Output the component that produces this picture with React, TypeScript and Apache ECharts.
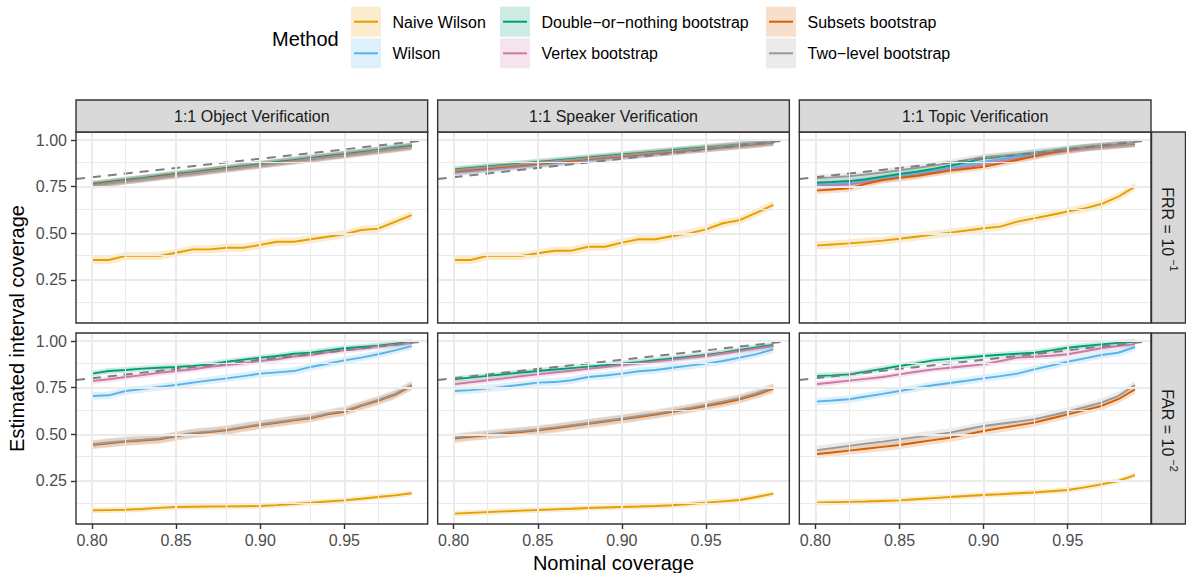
import React, { useEffect, useRef } from "react";
import * as echarts from "echarts";

// ---------------- data ----------------
const XS = [0.80, 0.81, 0.82, 0.83, 0.84, 0.85, 0.86, 0.87, 0.88, 0.89, 0.90, 0.91, 0.92, 0.93, 0.94, 0.95, 0.96, 0.97, 0.98, 0.99];
const METHODS = ["Naive Wilson", "Wilson", "Double\u2212or\u2212nothing bootstrap", "Vertex bootstrap", "Subsets bootstrap", "Two\u2212level bootstrap"];
const COLORS = ["#E69F00", "#56B4E9", "#009E73", "#CC79A7", "#D55E00", "#999999"];
const FACETS = ["1:1 Object Verification", "1:1 Speaker Verification", "1:1 Topic Verification"];
const ROW_NAMES = ["FRR = 10", "FAR = 10"];
const ROW_EXPONENTS = ["\u22121", "\u22122"];
const X_TICKS = [0.80, 0.85, 0.90, 0.95];
const X_MINOR = [0.825, 0.875, 0.925, 0.975];
const Y_TICKS = [0.25, 0.50, 0.75, 1.00];
const Y_MINOR = [0.125, 0.375, 0.625, 0.875];
const BAND_FRR = [0.022, 0.018, 0.018, 0.018, 0.019, 0.019];
const BAND_FAR = [0.015, 0.020, 0.016, 0.016, 0.023, 0.023];

// Object, FRR
const OBJ_FRR_NAIVE = [0.357, 0.357, 0.379, 0.379, 0.379, 0.396, 0.414, 0.414, 0.423, 0.423, 0.438, 0.455, 0.455, 0.468, 0.482, 0.495, 0.518, 0.525, 0.562, 0.598];
const OBJ_FRR_WILSON = [0.762, 0.773, 0.784, 0.795, 0.806, 0.817, 0.827, 0.838, 0.849, 0.860, 0.871, 0.882, 0.893, 0.904, 0.915, 0.926, 0.937, 0.948, 0.960, 0.971];
const OBJ_FRR_DON = [0.764, 0.775, 0.786, 0.796, 0.807, 0.818, 0.828, 0.839, 0.850, 0.860, 0.871, 0.882, 0.892, 0.903, 0.914, 0.924, 0.935, 0.946, 0.957, 0.968];
const OBJ_FRR_VERTEX = [0.758, 0.768, 0.780, 0.790, 0.801, 0.812, 0.822, 0.833, 0.844, 0.854, 0.865, 0.876, 0.887, 0.897, 0.908, 0.919, 0.930, 0.941, 0.952, 0.963];
const OBJ_FRR_SUBSETS = [0.760, 0.771, 0.782, 0.792, 0.803, 0.814, 0.824, 0.835, 0.846, 0.856, 0.867, 0.878, 0.889, 0.899, 0.910, 0.921, 0.932, 0.943, 0.954, 0.965];
const OBJ_FRR_TWOLEVEL = [0.757, 0.768, 0.779, 0.790, 0.801, 0.812, 0.822, 0.833, 0.844, 0.855, 0.865, 0.876, 0.887, 0.898, 0.908, 0.919, 0.930, 0.941, 0.952, 0.963];

// Speaker, FRR
const SPK_FRR_NAIVE = [0.357, 0.357, 0.379, 0.379, 0.379, 0.393, 0.407, 0.407, 0.428, 0.428, 0.450, 0.468, 0.468, 0.486, 0.500, 0.521, 0.554, 0.571, 0.611, 0.652];
const SPK_FRR_WILSON = [0.824, 0.832, 0.841, 0.849, 0.858, 0.866, 0.875, 0.883, 0.892, 0.900, 0.909, 0.917, 0.926, 0.934, 0.943, 0.951, 0.960, 0.968, 0.977, 0.986];
const SPK_FRR_DON = [0.842, 0.850, 0.858, 0.866, 0.874, 0.882, 0.890, 0.898, 0.906, 0.914, 0.922, 0.930, 0.937, 0.945, 0.953, 0.960, 0.967, 0.975, 0.982, 0.989];
const SPK_FRR_VERTEX = [0.828, 0.836, 0.845, 0.853, 0.861, 0.870, 0.878, 0.886, 0.895, 0.903, 0.911, 0.920, 0.928, 0.936, 0.945, 0.953, 0.961, 0.969, 0.977, 0.986];
const SPK_FRR_SUBSETS = [0.832, 0.840, 0.848, 0.857, 0.865, 0.873, 0.881, 0.889, 0.898, 0.906, 0.914, 0.922, 0.930, 0.938, 0.946, 0.954, 0.962, 0.970, 0.978, 0.987];
const SPK_FRR_TWOLEVEL = [0.838, 0.846, 0.854, 0.862, 0.870, 0.878, 0.886, 0.894, 0.902, 0.910, 0.918, 0.926, 0.934, 0.942, 0.950, 0.958, 0.966, 0.973, 0.981, 0.989];

// Topic, FRR
const TOP_FRR_NAIVE = [0.434, 0.440, 0.446, 0.453, 0.461, 0.471, 0.482, 0.493, 0.504, 0.515, 0.527, 0.536, 0.563, 0.580, 0.598, 0.617, 0.634, 0.657, 0.696, 0.750];
const TOP_FRR_WILSON = [0.760, 0.764, 0.770, 0.781, 0.795, 0.808, 0.820, 0.834, 0.850, 0.866, 0.882, 0.896, 0.909, 0.922, 0.934, 0.946, 0.957, 0.966, 0.974, 0.982];
const TOP_FRR_DON = [0.771, 0.775, 0.780, 0.790, 0.804, 0.818, 0.830, 0.845, 0.862, 0.880, 0.902, 0.912, 0.921, 0.931, 0.941, 0.952, 0.960, 0.968, 0.975, 0.982];
const TOP_FRR_VERTEX = [0.753, 0.757, 0.762, 0.774, 0.788, 0.800, 0.812, 0.826, 0.841, 0.855, 0.870, 0.886, 0.900, 0.914, 0.929, 0.942, 0.954, 0.963, 0.971, 0.980];
const TOP_FRR_SUBSETS = [0.729, 0.735, 0.741, 0.765, 0.786, 0.797, 0.807, 0.822, 0.836, 0.846, 0.857, 0.875, 0.893, 0.912, 0.932, 0.946, 0.959, 0.966, 0.973, 0.982];
const TOP_FRR_TWOLEVEL = [0.795, 0.800, 0.806, 0.815, 0.826, 0.838, 0.850, 0.863, 0.877, 0.893, 0.908, 0.916, 0.924, 0.933, 0.942, 0.951, 0.959, 0.967, 0.974, 0.982];

// Object, FAR
const OBJ_FAR_NAIVE = [0.093, 0.094, 0.096, 0.100, 0.106, 0.111, 0.112, 0.113, 0.114, 0.115, 0.116, 0.121, 0.127, 0.134, 0.140, 0.146, 0.155, 0.164, 0.173, 0.184];
const OBJ_FAR_WILSON = [0.705, 0.709, 0.732, 0.743, 0.754, 0.764, 0.777, 0.789, 0.800, 0.812, 0.825, 0.832, 0.839, 0.861, 0.878, 0.896, 0.911, 0.929, 0.950, 0.973];
const OBJ_FAR_DON = [0.825, 0.839, 0.845, 0.852, 0.857, 0.861, 0.867, 0.875, 0.889, 0.900, 0.911, 0.920, 0.932, 0.938, 0.950, 0.961, 0.968, 0.975, 0.985, 0.996];
const OBJ_FAR_VERTEX = [0.786, 0.795, 0.807, 0.817, 0.830, 0.839, 0.848, 0.862, 0.871, 0.880, 0.893, 0.902, 0.917, 0.925, 0.940, 0.950, 0.958, 0.971, 0.979, 0.991];
const OBJ_FAR_SUBSETS = [0.443, 0.452, 0.461, 0.467, 0.473, 0.489, 0.504, 0.512, 0.521, 0.536, 0.550, 0.562, 0.575, 0.586, 0.607, 0.621, 0.652, 0.679, 0.711, 0.759];
const OBJ_FAR_TWOLEVEL = [0.447, 0.456, 0.465, 0.471, 0.478, 0.493, 0.508, 0.516, 0.525, 0.540, 0.554, 0.566, 0.579, 0.590, 0.611, 0.627, 0.656, 0.684, 0.716, 0.765];

// Speaker, FAR
const SPK_FAR_NAIVE = [0.075, 0.079, 0.083, 0.087, 0.091, 0.095, 0.098, 0.101, 0.105, 0.108, 0.111, 0.113, 0.116, 0.120, 0.127, 0.134, 0.141, 0.148, 0.164, 0.182];
const SPK_FAR_WILSON = [0.732, 0.737, 0.745, 0.755, 0.766, 0.777, 0.780, 0.790, 0.807, 0.815, 0.825, 0.838, 0.845, 0.857, 0.868, 0.879, 0.893, 0.911, 0.930, 0.955];
const SPK_FAR_DON = [0.795, 0.804, 0.813, 0.822, 0.831, 0.839, 0.847, 0.855, 0.863, 0.870, 0.878, 0.887, 0.897, 0.906, 0.916, 0.925, 0.938, 0.952, 0.966, 0.979];
const SPK_FAR_VERTEX = [0.768, 0.779, 0.790, 0.800, 0.811, 0.821, 0.831, 0.841, 0.851, 0.861, 0.871, 0.881, 0.891, 0.900, 0.910, 0.920, 0.933, 0.946, 0.960, 0.973];
const SPK_FAR_SUBSETS = [0.477, 0.487, 0.495, 0.504, 0.512, 0.521, 0.532, 0.544, 0.556, 0.568, 0.580, 0.593, 0.606, 0.621, 0.636, 0.652, 0.668, 0.688, 0.713, 0.745];
const SPK_FAR_TWOLEVEL = [0.482, 0.492, 0.500, 0.509, 0.517, 0.526, 0.537, 0.549, 0.561, 0.573, 0.585, 0.598, 0.611, 0.626, 0.641, 0.658, 0.675, 0.694, 0.720, 0.752];

// Topic, FAR
const TOP_FAR_NAIVE = [0.134, 0.136, 0.138, 0.140, 0.143, 0.146, 0.152, 0.158, 0.164, 0.170, 0.175, 0.179, 0.184, 0.188, 0.195, 0.202, 0.216, 0.232, 0.250, 0.282];
const TOP_FAR_WILSON = [0.675, 0.681, 0.688, 0.703, 0.717, 0.732, 0.748, 0.763, 0.775, 0.787, 0.800, 0.812, 0.825, 0.848, 0.868, 0.889, 0.907, 0.925, 0.937, 0.968];
const TOP_FAR_DON = [0.812, 0.816, 0.821, 0.836, 0.851, 0.866, 0.880, 0.896, 0.904, 0.912, 0.920, 0.926, 0.932, 0.937, 0.950, 0.964, 0.973, 0.982, 0.990, 0.996];
const TOP_FAR_VERTEX = [0.768, 0.778, 0.788, 0.797, 0.807, 0.821, 0.835, 0.848, 0.857, 0.866, 0.875, 0.893, 0.911, 0.916, 0.921, 0.929, 0.945, 0.961, 0.973, 0.982];
const TOP_FAR_SUBSETS = [0.393, 0.403, 0.413, 0.423, 0.433, 0.443, 0.456, 0.469, 0.482, 0.500, 0.518, 0.533, 0.548, 0.563, 0.585, 0.607, 0.630, 0.652, 0.688, 0.741];
const TOP_FAR_TWOLEVEL = [0.414, 0.426, 0.438, 0.450, 0.461, 0.473, 0.485, 0.497, 0.509, 0.527, 0.545, 0.557, 0.568, 0.580, 0.600, 0.621, 0.645, 0.670, 0.705, 0.764];

const PANELS = [
  [OBJ_FRR_NAIVE, OBJ_FRR_WILSON, OBJ_FRR_DON, OBJ_FRR_VERTEX, OBJ_FRR_SUBSETS, OBJ_FRR_TWOLEVEL],
  [SPK_FRR_NAIVE, SPK_FRR_WILSON, SPK_FRR_DON, SPK_FRR_VERTEX, SPK_FRR_SUBSETS, SPK_FRR_TWOLEVEL],
  [TOP_FRR_NAIVE, TOP_FRR_WILSON, TOP_FRR_DON, TOP_FRR_VERTEX, TOP_FRR_SUBSETS, TOP_FRR_TWOLEVEL],
  [OBJ_FAR_NAIVE, OBJ_FAR_WILSON, OBJ_FAR_DON, OBJ_FAR_VERTEX, OBJ_FAR_SUBSETS, OBJ_FAR_TWOLEVEL],
  [SPK_FAR_NAIVE, SPK_FAR_WILSON, SPK_FAR_DON, SPK_FAR_VERTEX, SPK_FAR_SUBSETS, SPK_FAR_TWOLEVEL],
  [TOP_FAR_NAIVE, TOP_FAR_WILSON, TOP_FAR_DON, TOP_FAR_VERTEX, TOP_FAR_SUBSETS, TOP_FAR_TWOLEVEL],
];

// ---------------- layout ----------------
const FF = "'Liberation Sans', Arial, Helvetica, sans-serif";
const X_MIN = 0.7905;
const X_MAX = 0.9995;
const Y_MIN = 0.0196;
const Y_MAX = 1.0429;
const COL_LEFT = [76, 437.67, 799.33];
const ROW_TOP = [132, 333];
const PW = 351.67;
const PH = 191;

function rgba(hex: string, a: number) {
  const r = parseInt(hex.slice(1, 3), 16);
  const g = parseInt(hex.slice(3, 5), 16);
  const b = parseInt(hex.slice(5, 7), 16);
  return `rgba(${r},${g},${b},${a})`;
}

function buildOption() {
  const grid: any[] = [];
  const xAxis: any[] = [];
  const yAxis: any[] = [];
  const series: any[] = [];
  const graphic: any[] = [];

  PANELS.forEach((panel, gi) => {
    const row = Math.floor(gi / 3);
    const col = gi % 3;
    const bands = row === 0 ? BAND_FRR : BAND_FAR;
    grid.push({
      left: COL_LEFT[col], top: ROW_TOP[row], width: PW, height: PH,
      show: true, backgroundColor: "#FFFFFF", borderWidth: 0,
    });
    xAxis.push({
      gridIndex: gi, type: "value", min: X_MIN, max: X_MAX,
      splitLine: { show: false }, axisLine: { show: false },
      axisTick: { show: row === 1, customValues: X_TICKS, length: 5, lineStyle: { color: "#333333", width: 1.4 } },
      axisLabel: {
        show: row === 1, customValues: X_TICKS, formatter: (v: number) => v.toFixed(2),
        color: "#4D4D4D", fontSize: 16, fontFamily: FF, margin: 8,
      },
    });
    yAxis.push({
      gridIndex: gi, type: "value", min: Y_MIN, max: Y_MAX,
      splitLine: { show: false }, axisLine: { show: false },
      axisTick: { show: col === 0, customValues: Y_TICKS, length: 5, lineStyle: { color: "#333333", width: 1.4 } },
      axisLabel: {
        show: col === 0, customValues: Y_TICKS, formatter: (v: number) => v.toFixed(2),
        color: "#4D4D4D", fontSize: 16, fontFamily: FF, margin: 9,
      },
    });
    // grid lines
    series.push({
      type: "line", xAxisIndex: gi, yAxisIndex: gi, data: [], silent: true, z: 0,
      markLine: {
        silent: true, symbol: "none", animation: false, label: { show: false },
        lineStyle: { color: "#EBEBEB", width: 2, type: "solid" },
        data: [
          ...X_TICKS.map((v) => ({ xAxis: v })),
          ...X_MINOR.map((v) => ({ xAxis: v, lineStyle: { color: "#EBEBEB", width: 1, type: "solid" } })),
          ...Y_TICKS.map((v) => ({ yAxis: v })),
          ...Y_MINOR.map((v) => ({ yAxis: v, lineStyle: { color: "#EBEBEB", width: 1, type: "solid" } })),
        ],
      },
    });
    // ribbons (custom polygons through the axis scales)
    panel.forEach((vals, m) => {
      const fill = rgba(COLORS[m], 0.2);
      series.push({
        type: "custom", xAxisIndex: gi, yAxisIndex: gi, silent: true, z: 1, clip: true,
        encode: { x: 0, y: 1 },
        data: XS.map((x, k) => [x, vals[k] - bands[m], vals[k] + bands[m]]),
        renderItem: (params: any, api: any) => {
          if (params.dataIndexInside !== 0) return null;
          const n = params.dataInsideLength;
          const up: number[][] = [];
          const lo: number[][] = [];
          for (let k = 0; k < n; k++) {
            const x = api.value(0, k);
            up.push(api.coord([x, api.value(2, k)]));
            lo.push(api.coord([x, api.value(1, k)]));
          }
          return {
            type: "polygon",
            shape: { points: up.concat(lo.reverse()) },
            style: { fill, stroke: "none" },
          };
        },
      });
    });
    // lines
    panel.forEach((vals, m) => {
      series.push({
        type: "line", xAxisIndex: gi, yAxisIndex: gi, silent: true, z: 2,
        name: METHODS[m], symbol: "none", showSymbol: false,
        lineStyle: { color: COLORS[m], width: 1.9 }, itemStyle: { color: COLORS[m] },
        data: XS.map((x, k) => [x, vals[k]]),
      });
    });
    // identity reference line
    series.push({
      type: "line", xAxisIndex: gi, yAxisIndex: gi, silent: true, z: 3,
      symbol: "none", showSymbol: false,
      lineStyle: { color: "#7F7F7F", width: 2, type: [9, 7] },
      data: [[X_MIN, X_MIN], [X_MAX, X_MAX]],
    });
    // panel border
    graphic.push({
      type: "rect", z: 50, silent: true,
      shape: { x: COL_LEFT[col], y: ROW_TOP[row], width: PW, height: PH },
      style: { fill: "none", stroke: "#333333", lineWidth: 1.4 },
    });
  });

  // top strips
  COL_LEFT.forEach((l, c) => {
    graphic.push({
      type: "rect", z: 60, silent: true,
      shape: { x: l, y: 100, width: PW, height: 32 },
      style: { fill: "#D9D9D9", stroke: "#333333", lineWidth: 1.4 },
    });
    graphic.push({
      type: "text", z: 61, silent: true, x: l + PW / 2, y: 116.5,
      style: { text: FACETS[c], fill: "#1A1A1A", font: "16px " + FF, textAlign: "center", textVerticalAlign: "middle" },
    });
  });
  // right strips
  ROW_TOP.forEach((t, r) => {
    graphic.push({
      type: "rect", z: 60, silent: true,
      shape: { x: 1151.5, y: t, width: 34, height: PH },
      style: { fill: "#D9D9D9", stroke: "#333333", lineWidth: 1.4 },
    });
    graphic.push({
      type: "text", z: 61, silent: true, x: 1167, y: t + PH / 2 + 2, rotation: -Math.PI / 2,
      style: {
        text: "{b|" + ROW_NAMES[r] + "}{s|" + ROW_EXPONENTS[r] + "}",
        fill: "#1A1A1A", textAlign: "center", textVerticalAlign: "middle",
        rich: {
          b: { fontSize: 16, fontFamily: FF, fill: "#1A1A1A", lineHeight: 24, verticalAlign: "middle" },
          s: { fontSize: 11, fontFamily: FF, fill: "#1A1A1A", lineHeight: 24, verticalAlign: "top", padding: [0, 0, 0, 3] },
        },
      },
    });
  });
  // axis titles
  graphic.push({
    type: "text", z: 61, silent: true, x: 17, y: 328.5, rotation: Math.PI / 2,
    style: { text: "Estimated interval coverage", fill: "#000000", font: "20px " + FF, textAlign: "center", textVerticalAlign: "middle" },
  });
  graphic.push({
    type: "text", z: 61, silent: true, x: 613.5, y: 563,
    style: { text: "Nominal coverage", fill: "#000000", font: "20px " + FF, textAlign: "center", textVerticalAlign: "middle" },
  });
  // legend
  graphic.push({
    type: "text", z: 61, silent: true, x: 272, y: 38.5,
    style: { text: "Method", fill: "#000000", font: "20px " + FF, textAlign: "left", textVerticalAlign: "middle" },
  });
  const LEG_X = [351, 500, 766];
  const LEG_Y = [6.7, 38.3];
  METHODS.forEach((name, m) => {
    const x0 = LEG_X[Math.floor(m / 2)];
    const y0 = LEG_Y[m % 2];
    graphic.push({
      type: "rect", z: 60, silent: true,
      shape: { x: x0, y: y0, width: 30, height: 30 },
      style: { fill: rgba(COLORS[m], 0.2) },
    });
    graphic.push({
      type: "line", z: 61, silent: true,
      shape: { x1: x0 + 3, y1: y0 + 15, x2: x0 + 27, y2: y0 + 15 },
      style: { stroke: COLORS[m], lineWidth: 2 },
    });
    graphic.push({
      type: "text", z: 61, silent: true, x: x0 + 41.5, y: y0 + 15.5,
      style: { text: name, fill: "#000000", font: "16px " + FF, textAlign: "left", textVerticalAlign: "middle" },
    });
  });

  return {
    animation: false,
    backgroundColor: "#FFFFFF",
    grid, xAxis, yAxis, series, graphic,
  };
}

export default function App() {
  const ref = useRef<HTMLDivElement>(null);
  useEffect(() => {
    if (!ref.current) return;
    const chart = echarts.init(ref.current, undefined, { renderer: "svg" });
    chart.setOption(buildOption() as any);
    return () => chart.dispose();
  }, []);
  return (
    <div
      ref={ref}
      style={{ position: "absolute", left: 0, top: 0, width: 1186, height: 573, background: "#fff" }}
    />
  );
}
